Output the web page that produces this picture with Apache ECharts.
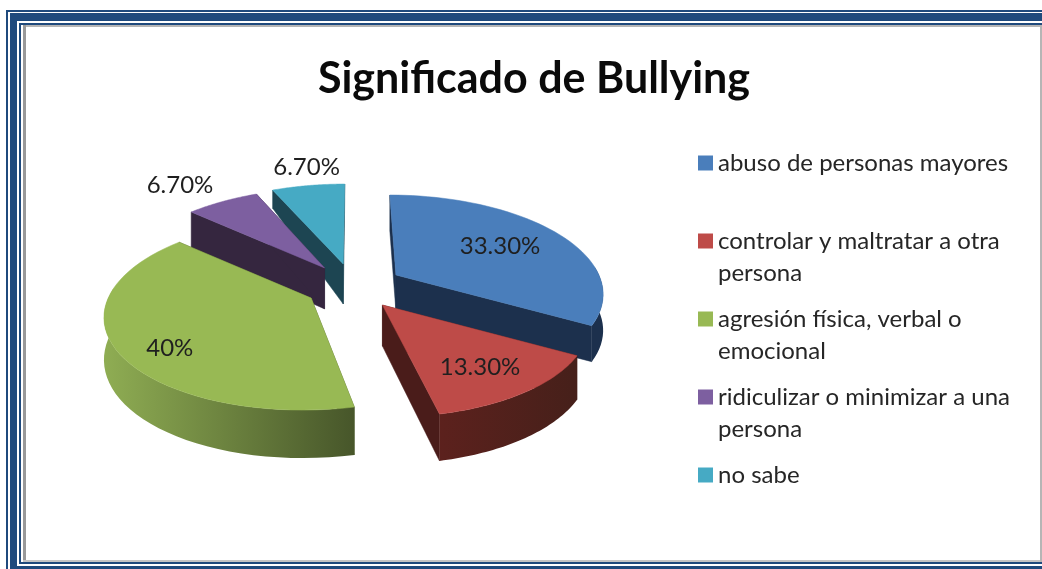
<!DOCTYPE html>
<html><head><meta charset="utf-8">
<style>html,body{margin:0;padding:0;background:#fff}#c{width:1042px;height:569px}</style>
<script src="https://cdn.jsdelivr.net/npm/echarts@6/dist/echarts.min.js"></script>
</head><body><div id="c"></div>
<script>
const categories = ['abuso de personas mayores','controlar y maltratar a otra persona','agresión física, verbal o emocional','ridiculizar o minimizar a una persona','no sabe'];
const values = [33.3, 13.3, 40, 6.7, 6.7];
const valueLabels = ['33.30%','13.30%','40%','6.70%','6.70%'];
const legendLines = [['abuso de personas mayores',' '],['controlar y maltratar a otra','persona'],['agresión física, verbal o','emocional'],['ridiculizar o minimizar a una','persona'],['no sabe',' ']];

// look of the slices (Office 2007 palette, darkened walls)
const topColors = ['#4a7ebb','#be4b48','#98b954','#7d5fa0','#46aac4'];
const cutColors = ['#1c304d','#4a1c1a','#4b5a28','#35263f','#1d4552'];
const wallStops = [['#1c304d','#1c304d'],['#5c211d','#46201a'],['#8fad53','#47562a'],['#35263f','#35263f'],['#1d4552','#1d4552']];
const labelReach = [0.65, 0.7, 0.78, 1.4, 1.3];
const labelNudge = [[-2,0],[2,4],[8,11],[-8,6],[7,1]];
const depthBase = [36, 41, 41, 41, 40];
const depthSlope = [0, 6, 7, 6, 24];
const paintOrder = [3, 5, 4, 2, 1];

const view = {cx:353.5, cy:286.5, R:203, Ry:93.3, k:0.167, ex:49, ey:23};
const total = values.reduce((a,b)=>a+b,0);

function project(apex, theta, f, idx){
  const X = Math.sin(theta)*f, Z = -Math.cos(theta)*f, s = 1/(1-view.k*Z);
  return {x:view.cx+(apex.x-view.cx+view.R*X)*s, y:apex.y+view.Ry*Z*s, d:depthBase[idx]+depthSlope[idx]*Z, Z};
}
function sliceRender(idx){
  return function(params, api){
    const v = api.value(0);
    let before = 0; for(let i=0;i<idx;i++) before += values[i];
    const a0 = before/total*2*Math.PI, a1 = (before+v)/total*2*Math.PI, mid=(a0+a1)/2;
    const apex = {x:view.cx+view.ex*Math.sin(mid), y:view.cy-view.ey*Math.cos(mid)};
    const arc=[]; const n=48;
    for(let i=0;i<=n;i++) arc.push(project(apex,a0+(a1-a0)*i/n,1,idx));
    const kids=[];
    const d0=depthBase[idx];
    [arc[0],arc[n]].forEach(p=>{
      kids.push({type:'polygon',silent:true,shape:{points:[[apex.x,apex.y],[p.x,p.y],[p.x,p.y+p.d],[apex.x,apex.y+d0]]},style:{fill:cutColors[idx],stroke:cutColors[idx],lineWidth:0.5}});
    });
    const front=arc.filter(p=>p.Z>-0.12);
    if(front.length>1){
      const pts=front.map(p=>[p.x,p.y]).concat(front.slice().reverse().map(p=>[p.x,p.y+p.d]));
      kids.push({type:'polygon',silent:true,shape:{points:pts},style:{
        fill:new echarts.graphic.LinearGradient(0,0,1,0,[{offset:0,color:wallStops[idx][0]},{offset:1,color:wallStops[idx][1]}]),
      }});
    }
    const top=[[apex.x,apex.y]].concat(arc.map(p=>[p.x,p.y]));
    kids.push({type:'polygon',silent:true,shape:{points:top},style:{fill:topColors[idx],stroke:topColors[idx],lineWidth:0.5}});
    const lp=project(apex,mid,labelReach[idx],idx);
    kids.push({type:'text',silent:true,z2:10,style:{text:valueLabels[idx],x:lp.x+labelNudge[idx][0],y:lp.y+labelNudge[idx][1],align:'center',verticalAlign:'middle',fill:'#1f1f1f',font:'24px Lato'}});
    return {type:'group',children:kids};
  };
}
const series = categories.map((name,i)=>({
  type:'custom',name,coordinateSystem:'none',z:paintOrder[i],animation:false,silent:true,
  itemStyle:{color:topColors[i]},
  data:[[values[i]]],
  renderItem:sliceRender(i)
}));
const band=(x,y,width,height,fill)=>({type:'rect',silent:true,shape:{x,y,width,height},style:{fill}});
const B='#1f4a7d';
const frame=[
  band(6,10,1036,2,B),band(6,10,2,559,B),
  band(10,13,1032,8,B),band(10,13,7,556,B),
  band(19,23,1023,2,B),band(19,23,2,541,B),band(19,562,1023,2,B),
  band(10,566,1032,3,B),
  band(23,25,1019,2,'#b5b5b5'),band(23,25,3,537,'#999999'),
  band(23,560,1019,2,'#c4c4c4'),band(1040,25,2,537,'#b5b5b5')
];
const chart=echarts.init(document.getElementById('c'));
chart.setOption({
  animation:false,
  backgroundColor:'#fff',
  title:{text:'Significado de Bullying',left:529,top:53,textAlign:'center',
    textStyle:{fontFamily:'Lato',fontWeight:'bold',fontSize:43,color:'#0a0a0a'}},
  legend:{orient:'vertical',left:693,top:110,itemGap:-18,itemWidth:15,itemHeight:15,icon:'rect',selectedMode:false,
    data:categories,
    formatter:name=>{const l=legendLines[categories.indexOf(name)];return ' \n'+l[0]+'\n'+l[1];},
    textStyle:{fontFamily:'Lato',fontSize:24,lineHeight:32,color:'#262626'}},
  graphic:{elements:frame},
  series
});
</script></body></html>
